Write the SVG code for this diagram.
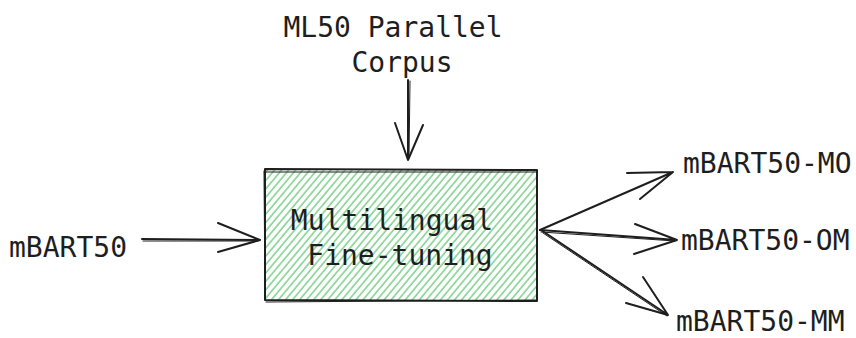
<svg xmlns="http://www.w3.org/2000/svg" width="856" height="338" viewBox="0 0 856 338">
  <style>
    .lbl { font-family: "DejaVu Sans Mono", "Liberation Mono", monospace; font-size: 28px; fill: #1e1e1e; }
    .edge { fill: none; stroke: #1e1e1e; stroke-width: 2; stroke-linecap: round; stroke-linejoin: round; }
    .thin { fill: none; stroke: #1e1e1e; stroke-width: 1; stroke-linecap: round; }
  </style>
  <defs>
    <pattern id="hachure" patternUnits="userSpaceOnUse" width="5.4" height="20" patternTransform="rotate(40)">
      <line x1="1" y1="0" x2="1" y2="20" stroke="#5cc66e" stroke-width="1.2"/>
    </pattern>
  </defs>
  <rect width="856" height="338" fill="#ffffff"/>

  <!-- source label -->
  <g id="corpus">
    <text class="lbl" x="393" y="37" text-anchor="middle">ML50 Parallel</text>
    <text class="lbl" x="402" y="72" text-anchor="middle">Corpus</text>
  </g>

  <!-- input model -->
  <g id="mbart50">
    <text class="lbl" x="9" y="257">mBART50</text>
  </g>

  <!-- fine-tuning stage -->
  <g id="finetune">
    <rect x="266" y="170" width="271" height="130" fill="url(#hachure)"/>
    <path class="edge" d="M265 169 L537 170 L537 301 L265 300 Z"/>
    <path class="thin" d="M266 172 L536 172 M264 171 L265 299 M266 302 L536 300"/>
    <text class="lbl" x="392" y="230" text-anchor="middle">Multilingual</text>
    <text class="lbl" x="400" y="265" text-anchor="middle">Fine-tuning</text>
  </g>

  <!-- output models -->
  <g id="mo">
    <text class="lbl" x="683" y="173">mBART50-MO</text>
  </g>
  <g id="om">
    <text class="lbl" x="681" y="250">mBART50-OM</text>
  </g>
  <g id="mm">
    <text class="lbl" x="676" y="331">mBART50-MM</text>
  </g>

  <!-- connectors -->
  <g id="connectors">
    <!-- corpus to fine-tuning -->
    <path class="edge" d="M408 80 L408 160 M395 123 L408 160 L423 125"/>
    <path class="thin" d="M410 81 L409 158"/>
    <!-- mBART50 to fine-tuning -->
    <path class="edge" d="M142 239 L260 240 M218 223 L260 240 L218 252"/>
    <path class="thin" d="M143 241 L258 241"/>
    <!-- fine-tuning to MO -->
    <path class="edge" d="M540 230 L673 172 M627 173 L673 172 L640 199"/>
    <!-- fine-tuning to OM -->
    <path class="edge" d="M540 230 L677 240 M635 224 L677 240 L634 254"/>
    <path class="thin" d="M541 232 L675 241"/>
    <!-- fine-tuning to MM -->
    <path class="edge" d="M541 230 L668 315 M643 277 L668 315 L626 303"/>
    <path class="thin" d="M543 233 L667 316"/>
  </g>
</svg>
